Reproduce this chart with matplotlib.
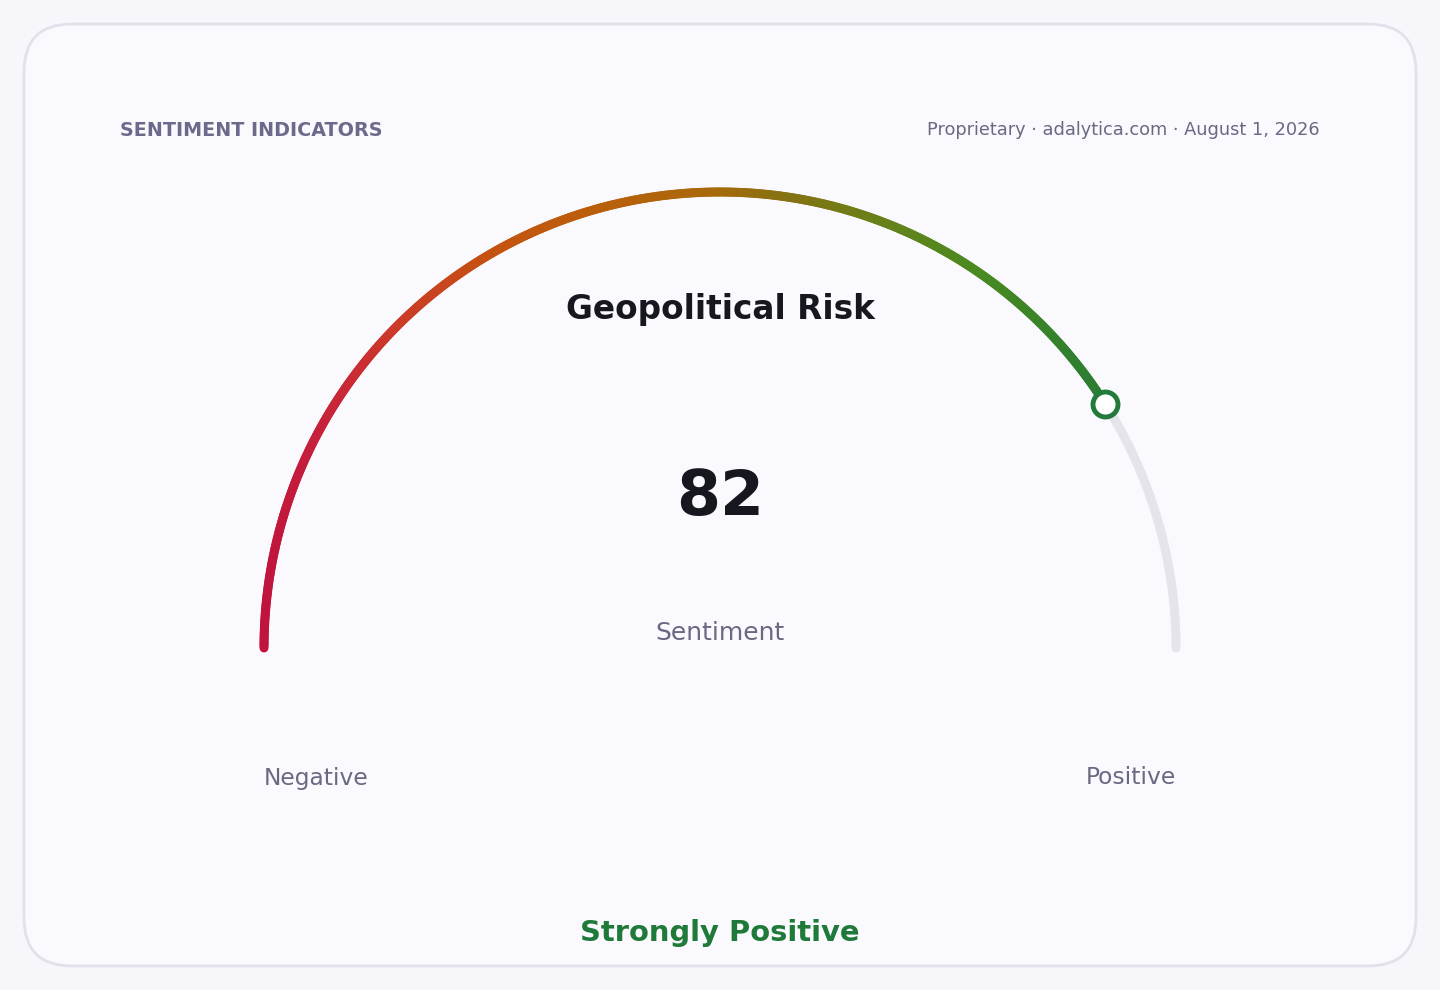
import numpy as np
import matplotlib
matplotlib.use("Agg")
import matplotlib.pyplot as plt
from matplotlib.collections import LineCollection
from matplotlib.colors import LinearSegmentedColormap
from matplotlib.patches import FancyBboxPatch

plt.rcParams["font.family"] = ["DejaVu Sans"]

# data
title = "Geopolitical Risk"
value = 82
value_label = "Sentiment"
verdict = "Strongly Positive"
header_left = "SENTIMENT INDICATORS"
header_right = "Proprietary · adalytica.com · August 1, 2026"
end_labels = ["Negative", "Positive"]
scale_min, scale_max = 0, 100

W, H = 1440, 990
fig = plt.figure(figsize=(W / 100, H / 100), dpi=100)
fig.patch.set_facecolor("#f7f7fb")
ax = fig.add_axes([0, 0, 1, 1])
ax.set_xlim(0, W)
ax.set_ylim(H, 0)
ax.axis("off")

# card
card = FancyBboxPatch((24, 24), 1392, 942, boxstyle="round,pad=0,rounding_size=48",
                      facecolor="#f9f9fe", edgecolor="#e1e1ec", linewidth=2)
ax.add_patch(card)

cx, cy, r = 720, 648, 456


def pt(v):
    a = np.pi * (1 - (v - scale_min) / (scale_max - scale_min))
    return cx + r * np.cos(a), cy - r * np.sin(a)


# grey track for the remaining part
vv = np.linspace(value, scale_max, 100)
xs, ys = pt(vv)
ax.plot(xs, ys, color="#e4e4ea", lw=6.5, solid_capstyle="round", zorder=2)

# coloured part, gradient runs left to right across the filled arc
cmap = LinearSegmentedColormap.from_list(
    "sent", [(0, "#c0143c"), (0.08, "#c8243a"), (0.16, "#cc3a28"), (0.28, "#c4540f"),
             (0.42, "#b8600a"), (0.54, "#a86a0a"), (0.61, "#8a7010"), (0.73, "#6a8018"),
             (0.85, "#4a8a20"), (1, "#2a7d32")])
vv = np.linspace(scale_min, value, 400)
xs, ys = pt(vv)
pts = np.column_stack([xs, ys]).reshape(-1, 1, 2)
segs = np.concatenate([pts[:-1], pts[1:]], axis=1)
xmid = (xs[:-1] + xs[1:]) / 2
frac = (xmid - xs.min()) / (xs.max() - xs.min())
lc = LineCollection(segs, colors=cmap(frac), linewidths=6.5,
                    capstyle="round", zorder=3)
ax.add_collection(lc)

mx, my = pt(value)
ax.plot(mx, my, "o", ms=18, mfc="white", mec="#237a3a", mew=3.5, zorder=4)

# texts
ax.text(120, 130, header_left, fontsize=13.8, fontweight="bold", color="#6c6a8a",
        ha="left", va="center")
ax.text(1320, 130, header_right, fontsize=12.8, color="#6a6982", ha="right", va="center")
ax.text(720, 309, title, fontsize=23.6, fontweight="bold", color="#17171f",
        ha="center", va="center")
ax.text(720, 498, str(value), fontsize=45.5, fontweight="bold", color="#17171f",
        ha="center", va="center")
ax.text(720, 633, value_label, fontsize=18, color="#6a6982", ha="center", va="center")
ax.text(264, 778, end_labels[0], fontsize=16.8, color="#6a6982", ha="left", va="center")
ax.text(1176, 778, end_labels[1], fontsize=16.8, color="#6a6982", ha="right", va="center")
ax.text(720, 933, verdict, fontsize=20.9, fontweight="bold", color="#1f7a3a",
        ha="center", va="center")

fig.savefig("out.png", dpi=100, facecolor=fig.get_facecolor())
